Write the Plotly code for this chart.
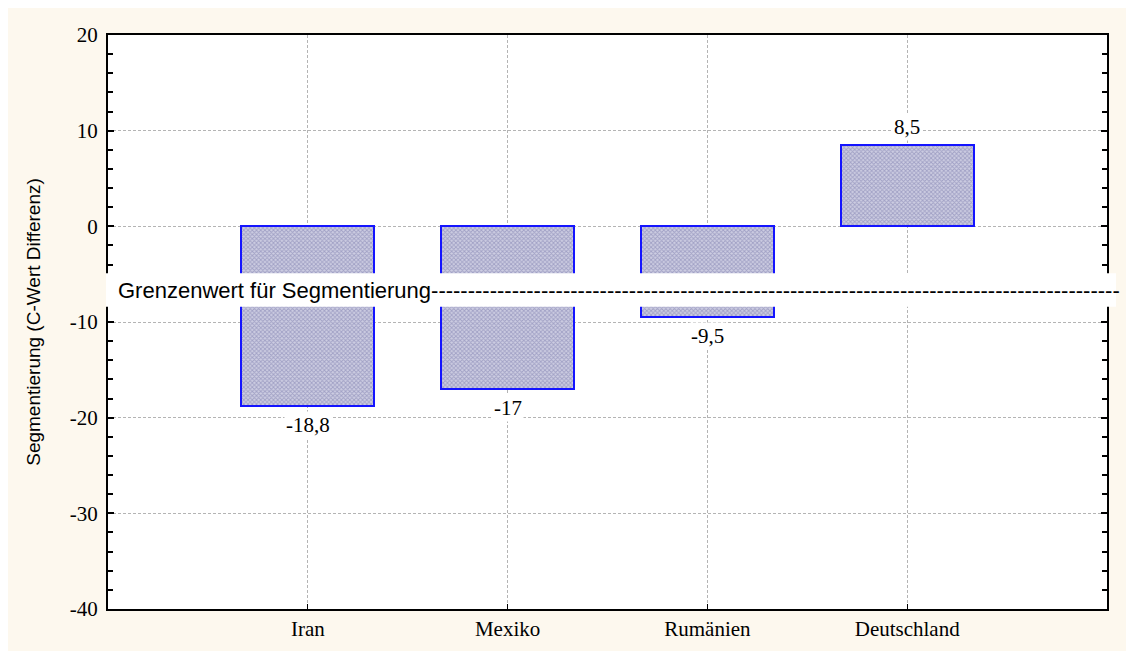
import plotly.graph_objects as go

categories = ["Iran", "Mexiko", "Rumänien", "Deutschland"]
values = [-18.8, -17.0, -9.5, 8.5]
value_labels = ["-18,8", "-17", "-9,5", "8,5"]
y_ticks = [-40, -30, -20, -10, 0, 10, 20]
y_tick_labels = ["-40", "-30", "-20", "-10", "0", "10", "20"]
threshold = -6.7
threshold_text = "Grenzenwert für Segmentierung"
y_title = "Segmentierung (C-Wert Differenz)"

W, H = 1134, 651
ML, MR, MT, MB = 100, 35, 27, 50
pw, ph = W - ML - MR, H - MT - MB

SERIF = "Liberation Serif, Times New Roman, serif"
SANS = "Liberation Sans, Arial, sans-serif"

fig = go.Figure()
fig.add_trace(go.Bar(
    x=list(range(len(categories))), y=values, width=0.665,
    marker=dict(
        color="#b0b0d0",
        line=dict(color="#1414ff", width=2),
        pattern=dict(shape="x", fgcolor="#7474a6", bgcolor="#cdcde2", size=3, solidity=0.5),
    ),
    showlegend=False, hoverinfo="skip",
))

for i, (v, lab) in enumerate(zip(values, value_labels)):
    fig.add_annotation(
        x=i, y=v, text=lab, showarrow=False,
        yanchor="top" if v < 0 else "bottom",
        yshift=-5 if v < 0 else 4,
        bgcolor="white", borderpad=1,
        font=dict(family=SERIF, size=21, color="black"),
    )

# threshold label band
fig.add_shape(type="rect", xref="paper", yref="y",
              x0=(98 - ML) / pw, x1=(1108 - ML) / pw,
              y0=threshold + 1.8, y1=threshold - 1.7,
              fillcolor="white", line=dict(width=0), layer="above")
fig.add_annotation(
    xref="paper", yref="y", x=(108 - ML) / pw, y=threshold,
    xanchor="left", yanchor="middle", showarrow=False,
    text=threshold_text + "-" * 94,
    font=dict(family=SANS, size=22, color="black"),
)

fig.update_layout(
    width=W, height=H,
    margin=dict(l=ML, r=MR, t=MT, b=MB, pad=0),
    paper_bgcolor="#fdf8ee", plot_bgcolor="white",
    bargap=0,
    xaxis=dict(
        range=[-1, 4], tickmode="array", tickvals=list(range(len(categories))),
        ticktext=categories, ticks="inside", ticklen=5, tickcolor="black",
        showline=True, linecolor="black", linewidth=2, mirror=True,
        showgrid=True, gridcolor="#b4b4b4", griddash="3px,2px", gridwidth=1,
        zeroline=False,
        tickfont=dict(family=SERIF, size=21, color="black"),
    ),
    yaxis=dict(
        range=[-40, 20], tickmode="array", tickvals=y_ticks, ticktext=y_tick_labels,
        ticks="inside", ticklen=6, tickcolor="black", tickwidth=2,
        showline=True, linecolor="black", linewidth=2, mirror="ticks",
        showgrid=True, gridcolor="#b4b4b4", griddash="3px,2px", gridwidth=1,
        zeroline=False, ticklabelstandoff=4,
        minor=dict(dtick=2, ticks="inside", ticklen=5, tickcolor="black", showgrid=False),
        tickfont=dict(family=SERIF, size=21, color="black"),
        title=dict(text=y_title, font=dict(family=SANS, size=19, color="black"), standoff=24),
    ),
)

fig.write_html("out.html")
